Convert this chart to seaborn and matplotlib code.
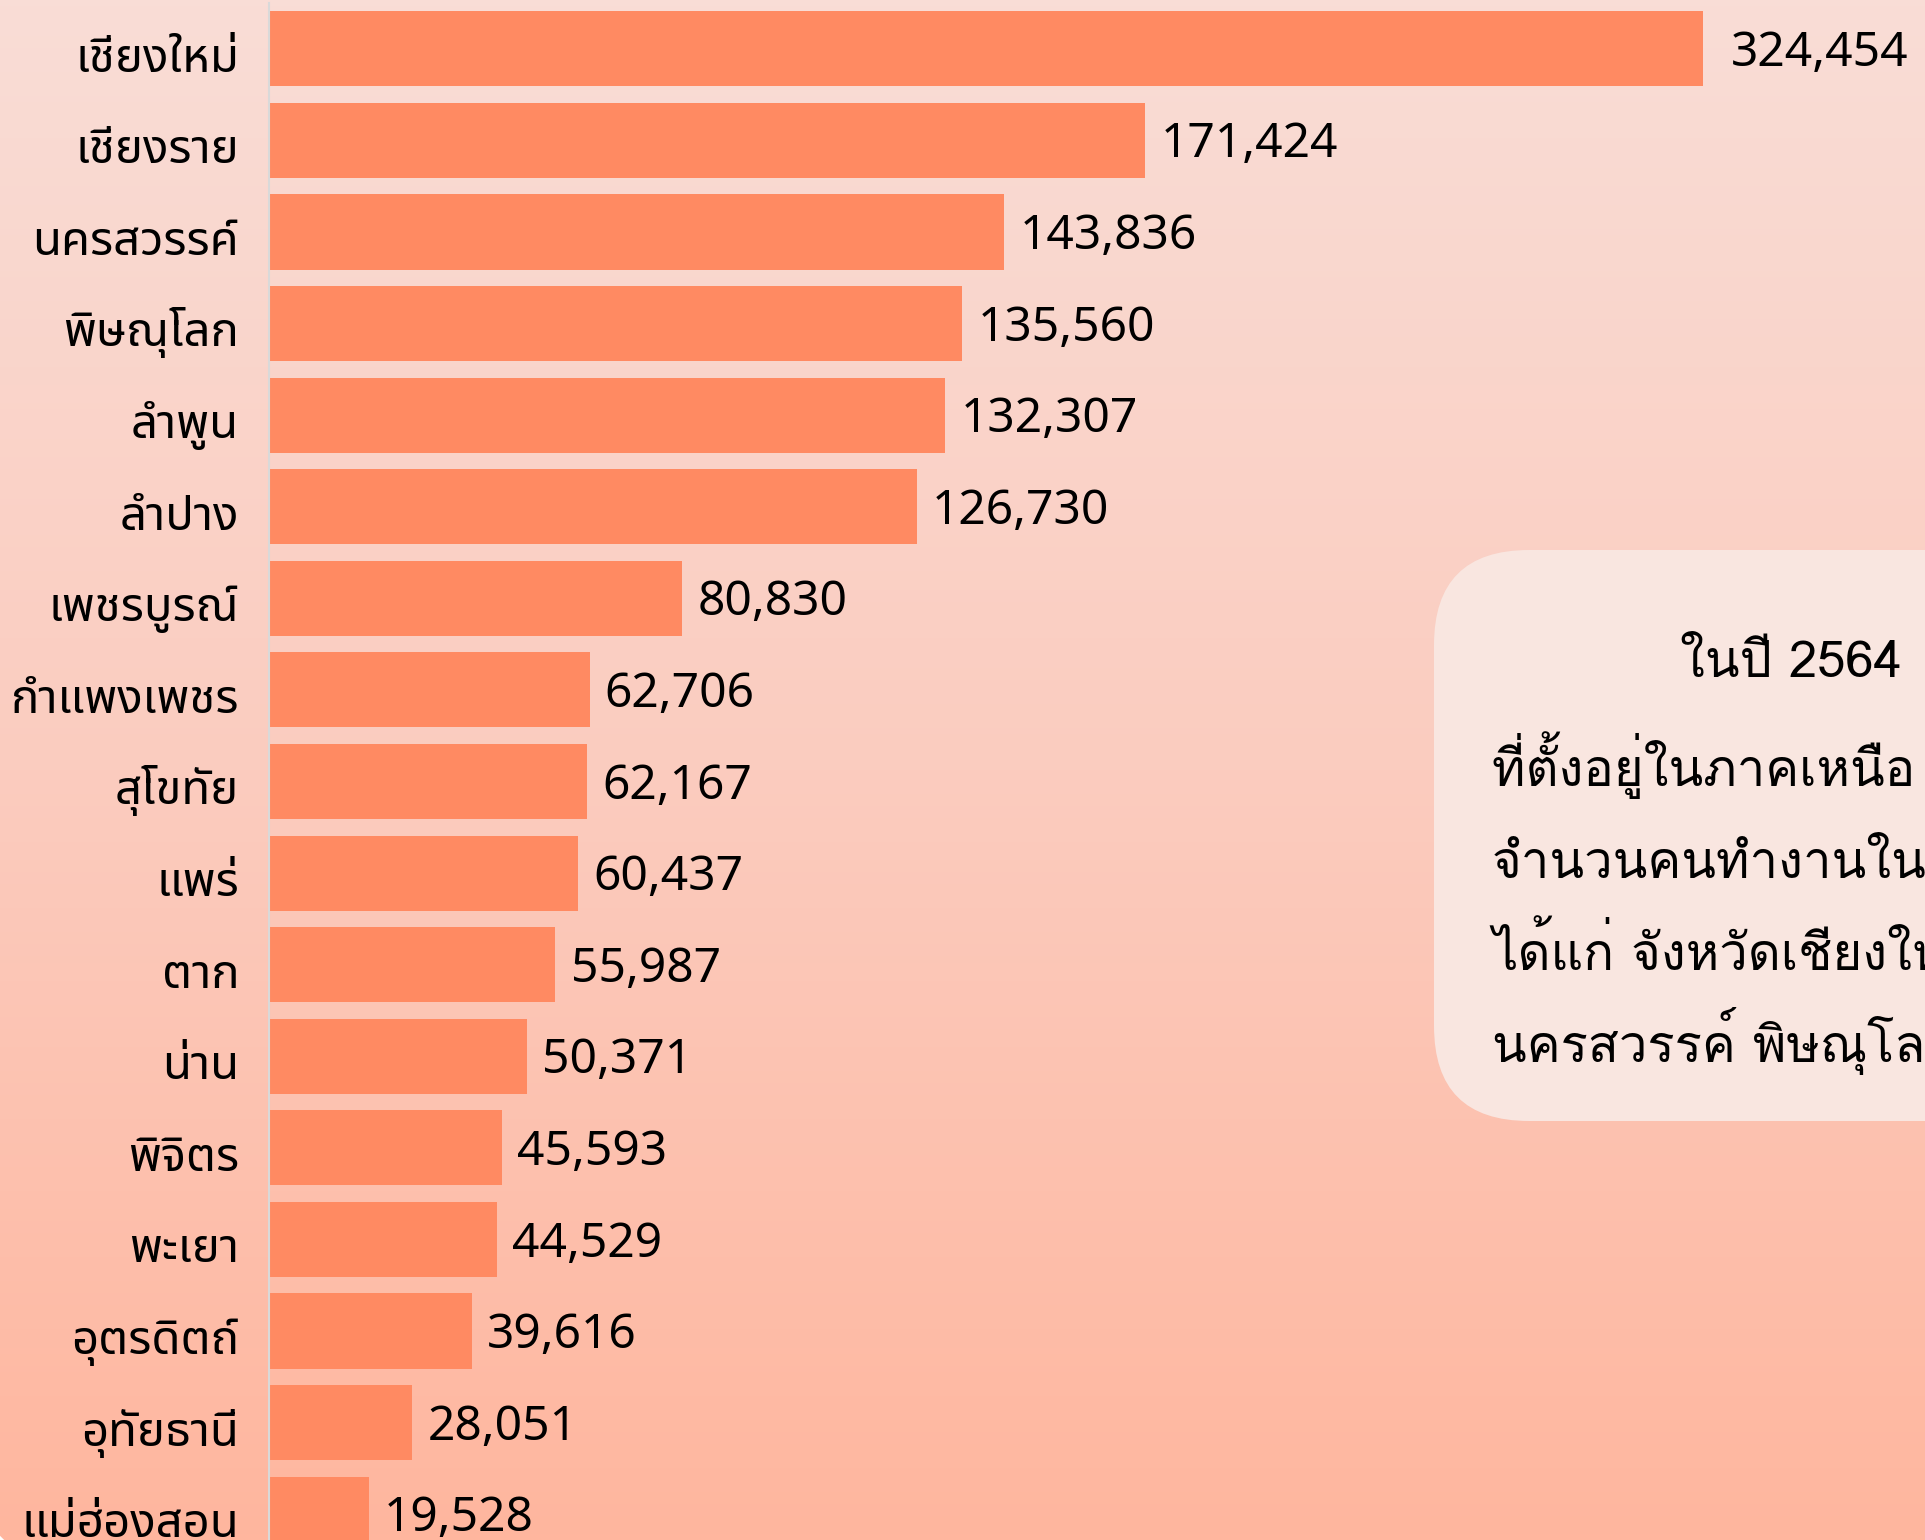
import matplotlib
matplotlib.use('Agg')
import matplotlib.pyplot as plt
from matplotlib import font_manager as fm
from matplotlib.patches import FancyBboxPatch
from matplotlib.colors import LinearSegmentedColormap
import numpy as np
import pandas as pd
import seaborn as sns

# Données : nombre de personnes occupées par province (ภาคเหนือ, 2564)
provinces = ["เชียงใหม่", "เชียงราย", "นครสวรรค์", "พิษณุโลก", "ลำพูน", "ลำปาง",
             "เพชรบูรณ์", "กำแพงเพชร", "สุโขทัย", "แพร่", "ตาก", "น่าน", "พิจิตร",
             "พะเยา", "อุตรดิตถ์", "อุทัยธานี", "แม่ฮ่องสอน"]
workers = [324454, 171424, 143836, 135560, 132307, 126730, 80830, 62706,
           62167, 60437, 55987, 50371, 45593, 44529, 39616, 28051, 19528]

note_title = "ในปี 2564"
note_lines = ["ที่ตั้งอยู่ในภาคเหนือ ที่มี",
              "จำนวนคนทำงานในสถานประกอบการ",
              "ได้แก่ จังหวัดเชียงใหม่ เชียงราย",
              "นครสวรรค์ พิษณุโลก และลำพูน"]

df = pd.DataFrame({"province": provinces, "workers": workers})

W, H = 1925, 1540
XMAX = 280500

sns.set_theme(style="white")
plt.rcParams['font.family'] = ['Noto Sans Thai', 'DejaVu Sans']

# police à boucles pour l'encadré (Loma) par chemin de fichier
loma_path = next((p for p in fm.findSystemFonts() if p.endswith('Loma.otf')), None)
if loma_path:
    note_fp = fm.FontProperties(fname=loma_path, size=31.5)
else:
    note_fp = fm.FontProperties(family=['DejaVu Sans'], size=31.5)

fig = plt.figure(figsize=(W / 100, H / 100), dpi=100)
fig.patch.set_facecolor('white')

# fond dégradé avec coin arrondi
bg = fig.add_axes([0, 0, 1, 1], zorder=0)
bg.set_xlim(0, W)
bg.set_ylim(0, H)
bg.axis('off')
grad = LinearSegmentedColormap.from_list("bg", ["#ffb69e", "#fbccbf", "#f9ddd6"])
img = bg.imshow(np.linspace(0, 1, 256).reshape(-1, 1), cmap=grad, origin='lower',
                extent=(0, W, 0, H), aspect='auto')
clip = FancyBboxPatch((-28, -28), 2400, 2000, boxstyle="round,pad=0,rounding_size=120",
                      transform=bg.transData, facecolor='none', edgecolor='none')
bg.add_patch(clip)
img.set_clip_path(clip)

# encadré texte
box = FancyBboxPatch((1434, H - 1121), 900, 571, boxstyle="round,pad=0,rounding_size=95",
                     facecolor='#f9e6e0', edgecolor='none', clip_on=False)
bg.add_patch(box)
title_txt = bg.text(1680, H - 677, note_title, fontproperties=note_fp, color='black', clip_on=False)
note_txts = []
for k, line in enumerate(note_lines):
    note_txts.append(bg.text(1492, H - (786 + k * 92), line, fontproperties=note_fp,
                             color='black', clip_on=False))

# ajuster la taille pour que le titre fasse ~222 px de large
renderer = fig.canvas.get_renderer()
wpx = title_txt.get_window_extent(renderer).width
new_size = 31.5 * 222 / wpx
for t in [title_txt] + note_txts:
    t.set_fontsize(new_size)

# graphique principal
ax = fig.add_axes([269 / W, -20 / H, (1703 - 269) / W, 1557 / H], zorder=1)
ax.patch.set_alpha(0)
sns.barplot(data=df, x="workers", y="province", orient='h', color='#ff8a62',
            saturation=1, width=0.82, linewidth=0, ax=ax)
ax.set_xlim(0, XMAX)
ax.set_ylim(16.5, -0.5)
ax.set_xlabel("")
ax.set_ylabel("")
ax.set_xticks([])
ax.tick_params(axis='y', length=0, labelleft=False)
for s in ['top', 'right', 'bottom']:
    ax.spines[s].set_visible(False)
ax.spines['left'].set_color('#d9d9d9')
ax.spines['left'].set_linewidth(1.5)

# noms des provinces (ligne de base sous le centre de la barre)
for i, name in enumerate(provinces):
    ax.annotate(name, xy=(0, i), xycoords=('axes fraction', 'data'), xytext=(-21.5, -16.5),
                textcoords='offset points', ha='right', va='baseline', fontsize=34,
                color='black', annotation_clip=False)

# valeurs
for i, v in enumerate(workers):
    off = 11 if v < XMAX else 20
    ax.annotate(f"{v:,}", xy=(min(v, XMAX), i), xytext=(off, -12.3), textcoords='offset points',
                va='baseline', ha='left', fontsize=34.5, color='black', annotation_clip=False)

plt.savefig("out.png", dpi=100)
plt.close()
